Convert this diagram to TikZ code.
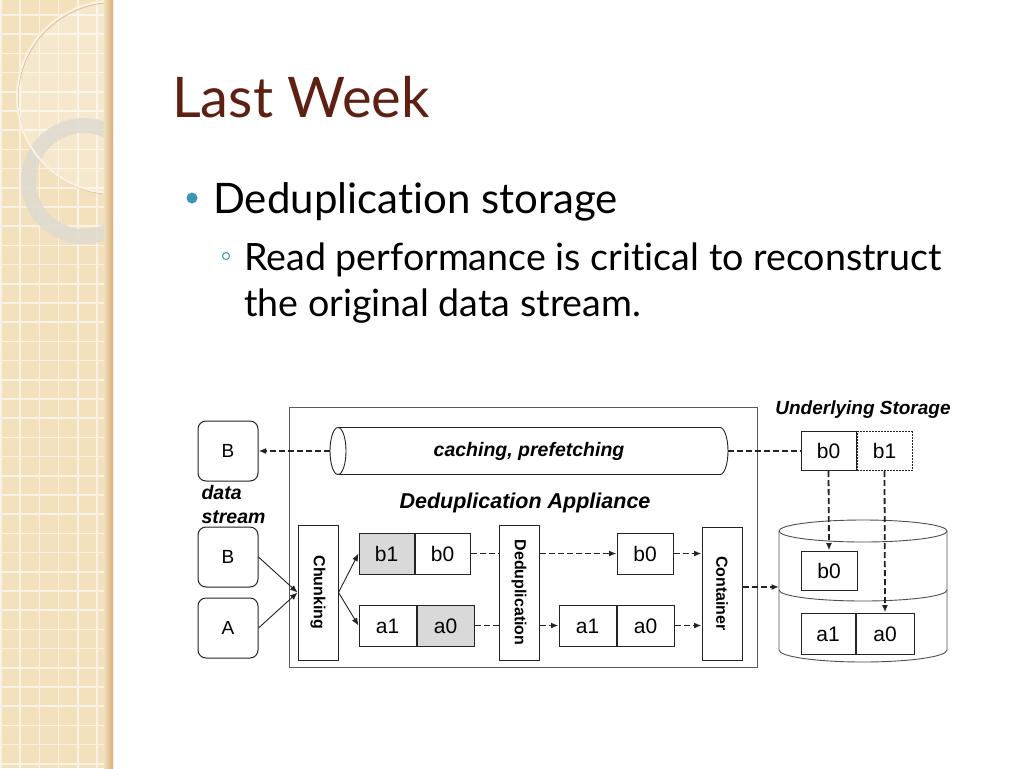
\documentclass[tikz,border=0pt]{standalone}
\usepackage{fontspec}
\setmainfont{Lato}[Ligatures=NoCommon]
\newfontfamily\arialfont{Liberation Sans}
\usetikzlibrary{shapes.geometric,positioning,arrows.meta}
\definecolor{titlebrown}{RGB}{94,32,18}
\definecolor{bulletteal}{RGB}{58,150,178}
\definecolor{stripbeige}{RGB}{242,225,188}
\definecolor{gridwhite}{RGB}{250,243,228}
\definecolor{ringgray}{RGB}{222,218,208}
\definecolor{chunkgray}{RGB}{217,217,217}
\definecolor{linegray}{RGB}{35,35,35}

\begin{document}
\begin{tikzpicture}[
  x=1pt, y=-1pt,
  >={Latex[length=7.5pt,width=6pt]},
  srcbox/.style={draw=linegray, line width=1pt, rounded corners=8pt, minimum width=60pt,
    minimum height=60pt, inner sep=0pt, font=\arialfont\fontsize{19}{19}\selectfont},
  chunkbox/.style={draw=linegray, line width=1pt, minimum width=55pt, minimum height=41pt,
    inner sep=0pt, text height=15pt, text depth=0pt,
    font=\arialfont\fontsize{21}{21}\selectfont},
  stagebox/.style={draw=linegray, line width=1pt, rotate=-90, minimum width=135pt,
    minimum height=40pt, inner sep=0pt, font=\arialfont\bfseries\fontsize{16}{16}\selectfont},
  lbl/.style={font=\arialfont\bfseries\itshape\fontsize{19.5}{24}\selectfont},
  flow/.style={->, line width=0.9pt, linegray},
  dflow/.style={line width=1.8pt, linegray, dash pattern=on 6pt off 3pt},
]
\useasboundingbox (0,0) rectangle (1024,768);
\fill[white] (0,0) rectangle (1024,768);

% Decorative strip on the left
\fill[stripbeige] (0,0) rectangle (113,768);
\foreach \k in {0,...,5}
  \draw[gridwhite, line width=1.6pt] (1+19.2*\k,0) -- (1+19.2*\k,768);
\foreach \k in {0,...,40}
  \draw[gridwhite, line width=1.6pt] (0,15+19.2*\k) -- (113,15+19.2*\k);
\begin{scope}
  \clip (0,0) rectangle (113,768);
  \fill[white, opacity=0.25] (113,97) circle[radius=96pt];
  \fill[ringgray, opacity=0.85, even odd rule]
    (84,181) circle[radius=63pt] (84,181) circle[radius=48pt];
  \draw[brown!50, line width=1pt] (114,98.5) circle[radius=96pt];
  \draw[gridwhite, line width=2pt] (113,97) circle[radius=96pt];
\end{scope}
\shade[left color=stripbeige, right color=brown!55!stripbeige] (104,0) rectangle (113,768);

% Title and bullets
\node[anchor=base west, inner sep=0pt, text=titlebrown,
  font=\fontsize{56}{56}\selectfont] (title) at (172,117) {Last Week};
\fill[bulletteal] (192,198) circle[radius=5.5pt];
\node[anchor=base west, inner sep=0pt, font=\fontsize{42}{42}\selectfont]
  (bullet1) at (213,213) {Deduplication storage};
\draw[bulletteal, line width=1pt] (226,256) circle[radius=3.5pt];
\node[anchor=base west, inner sep=0pt, align=left, font=\fontsize{37.6}{46}\selectfont]
  (bullet2) at (244,316) {Read performance is critical to reconstruct\\the original data stream.};

% Deduplication appliance frame and cache pipe
\node[draw=linegray!75, line width=0.9pt, minimum width=468pt, minimum height=260pt, inner sep=0pt]
  (appl) at (523,537) {};
\draw[linegray, line width=0.9pt, fill=white] (338,427.5) -- (720,427.5)
  arc[start angle=90, end angle=-90, x radius=8pt, y radius=23.5pt] -- (338,474.5);
\draw[linegray, line width=0.9pt, fill=white] (338,451) ellipse[x radius=8pt, y radius=23.5pt];
\node[lbl, minimum width=398pt, minimum height=47pt, inner sep=0pt]
  (cache) at (529,451) {caching, prefetching};
\node[lbl, font=\arialfont\bfseries\itshape\fontsize{21.5}{21.5}\selectfont]
  (appllbl) at (525,503) {Deduplication Appliance};

% Data streams
\node[srcbox] (bout) at (228,451) {B};
\node[lbl, align=left, anchor=west] (stream) at (198,505) {data\\stream};
\node[srcbox] (bin) at (228,557) {B};
\node[srcbox] (ain) at (228,628) {A};

% Pipeline stages
\node[stagebox] (chunk) at (318,592.5) {Chunking};
\node[chunkbox, fill=chunkgray] (cb1) at (386.5,553.5) {b1};
\node[chunkbox, right=0pt of cb1] (cb0) {b0};
\node[chunkbox, minimum width=57pt] (ca1) at (387.5,625.5) {a1};
\node[chunkbox, minimum width=57pt, fill=chunkgray, right=0pt of ca1] (ca0) {a0};
\node[stagebox] (dedup) at (519,592.5) {Deduplication};
\node[chunkbox, minimum width=56pt] (ub0) at (645,553.5) {b0};
\node[chunkbox, minimum width=57pt] (ua1) at (587.5,625.5) {a1};
\node[chunkbox, minimum width=57pt, right=0pt of ua1] (ua0) {a0};
\node[stagebox, minimum width=133pt] (cont) at (722,593.5) {Container};

% Underlying storage
\node[lbl, font=\arialfont\bfseries\itshape\fontsize{19}{19}\selectfont]
  (storelbl) at (863,410) {Underlying Storage};
\node[chunkbox, minimum height=39pt, dash pattern=on 2pt off 1pt] (sb1) at (884.5,451) {b1};
\node[chunkbox, minimum height=39pt, left=0pt of sb1] (sb0) {b0};
\draw[linegray!80, line width=0.9pt, fill=white] (779,531) -- (779,650)
  arc[start angle=180, end angle=360, x radius=84pt, y radius=12pt] -- (947,531);
\draw[linegray!80, line width=0.9pt, fill=white] (863,531) ellipse[x radius=84pt, y radius=11pt];
\draw[linegray!80, line width=0.9pt] (779,590)
  arc[start angle=180, end angle=360, x radius=84pt, y radius=11pt];
\node[chunkbox, minimum width=56pt, minimum height=39pt] (db0) at (829,570.5) {b0};
\node[chunkbox, minimum width=54pt] (da1) at (828,633.5) {a1};
\node[chunkbox, minimum width=58pt, right=0pt of da1] (da0) {a0};
\coordinate (diskin) at (779,587);

% Write path
\draw[flow] (bin.east) -- (chunk.south);
\draw[flow] (ain.east) -- (chunk.south);
\draw[flow] (chunk.north) -- (cb1.west);
\draw[flow] (chunk.north) -- (ca1.west);
\draw[dflow] (cb0.east) -- (cb0.east -| dedup.south);
\draw[dflow, ->] (cb0.east -| dedup.north) -- (ub0.west);
\draw[dflow] (ca0.east) -- (ca0.east -| dedup.south);
\draw[dflow, ->] (ca0.east -| dedup.north) -- (ua1.west);
\draw[dflow, ->] (ub0.east) -- (ub0.east -| cont.south);
\draw[dflow, ->] (ua0.east) -- (ua0.east -| cont.south);
\draw[dflow, ->] (cont.north |- diskin) -- (diskin);

% Read path
\draw[dflow, ->] (cache.west) -- (bout.east);
\draw[dflow] (cache.east) -- (sb0.west);
\draw[dflow, ->] (sb0.south) -- (db0.north);
\draw[dflow, ->] (sb1.south) -- (da0.north);
\end{tikzpicture}
\end{document}
